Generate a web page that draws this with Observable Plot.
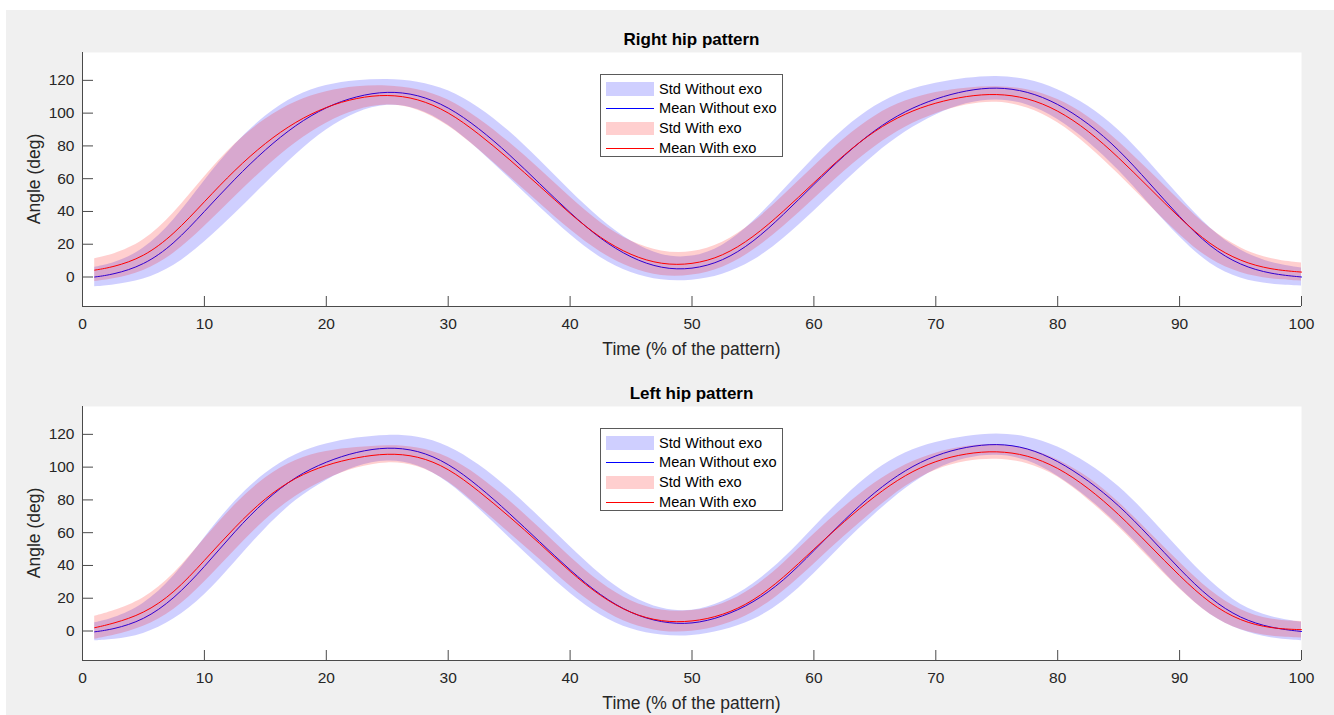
<!DOCTYPE html>
<html>
<head>
<meta charset="utf-8">
<script src="https://cdn.jsdelivr.net/npm/d3@7"></script>
<script src="https://cdn.jsdelivr.net/npm/@observablehq/plot@0.6"></script>
<style>
  html, body { margin: 0; padding: 0; }
  body { width: 1334px; height: 715px; overflow: hidden; position: relative; background: #ffffff;
         font-family: "Liberation Sans", Arial, Helvetica, sans-serif; }
  #fig { position: absolute; left: 6px; top: 10px; width: 1328px; height: 705px; background: #f0f0f0; }
  .abs { position: absolute; white-space: nowrap; }
  .title { font-weight: bold; font-size: 17px; color: #000; transform: translate(-50%, -50%); }
  .xlabel { font-size: 17.5px; color: #262626; transform: translate(-50%, -50%); }
  .ylabel { font-size: 17.5px; color: #262626; transform: translate(-50%, -50%) rotate(-90deg); }
  .legend { background: #fff; border: 1px solid #5a5a5a; box-sizing: border-box; width: 183px; height: 83px; }
  .row { position: absolute; left: 0; height: 20px; width: 100%; font-size: 14.6px; color: #000; }
  .row .sw { position: absolute; left: 5px; width: 48px; }
  .row .tx { position: absolute; left: 58px; top: 50%; transform: translateY(-50%); }
  svg { position: absolute; left: 0; }
</style>
</head>
<body>
<div id="fig"></div>
<script>
// ---- data ----
const time = [1, 2.5, 5, 7.5, 10, 12.5, 15, 17.5, 20, 22.5, 25, 27.5, 30, 32.5, 35, 37.5, 40, 42.5, 45, 47.5, 50,
              52.5, 55, 57.5, 60, 62.5, 65, 67.5, 70, 72.5, 75, 77.5, 80, 82.5, 85, 87.5, 90, 92.5, 95, 97.5, 100];

// Right hip
const rightMeanWithout = [0, 1.5, 7, 20, 40, 60, 78, 93, 104, 110.5, 113.5, 111.5, 104, 91, 75, 57, 39, 23, 11.5, 5, 4.5,
                          9.5, 21, 38, 56.5, 74.5, 90, 101.5, 109, 114, 116, 113.5, 106, 94, 78, 57.5, 36.5, 18, 7, 1.8, 0];
const rightStdWithout  = [6, 6.5, 9, 14, 19, 21.5, 21, 18, 13.5, 9.5, 7.5, 8, 10.5, 13, 14.5, 14.5, 13.5, 12, 9.5, 7.5, 7,
                          8.5, 12, 15, 16.5, 16.5, 15, 12.5, 9.5, 7.5, 7, 7.5, 9, 11, 12.5, 13, 12.5, 11, 8.5, 6.5, 5.5];
const rightMeanWith    = [4.2, 6, 12, 26, 46, 65.5, 82, 95, 104, 109.5, 111.5, 109, 101, 87.5, 72, 55.5, 38.5, 23.5, 13, 7.5, 7.5,
                          12.5, 24, 40, 57.5, 75, 89.5, 100, 106.5, 110.5, 112, 109.5, 102, 89.5, 73, 54.5, 36, 19.5, 9.5, 4.5, 3];
const rightStdWith     = [7, 7.5, 9, 12.5, 15.5, 16.5, 15, 12.5, 9.5, 7, 5.5, 6, 8, 9.5, 10.5, 10.5, 10, 9, 8, 7.5, 7,
                          7.5, 8.5, 9.5, 10, 10, 9.5, 8, 6.5, 5, 4.5, 5.5, 7, 9, 10, 10.5, 10.5, 9.5, 7.5, 6, 5.5];

// Left hip
const leftMeanWithout  = [-0.5, 1, 6.5, 19.5, 39, 61, 80, 94.5, 103.5, 109.5, 112.3, 110.5, 102.5, 88.5, 72, 54.5, 37, 21.5, 10.5, 5, 4,
                          8.6, 17, 30.4, 49, 68, 85, 98.5, 107.5, 112.5, 114.5, 112, 104, 92, 77, 58, 37.6, 19.5, 7.5, 1.8, -0.3];
const leftStdWithout   = [5.5, 6.5, 9, 13, 18, 19, 17, 14, 11, 8.5, 7.5, 8.5, 11, 13.5, 15, 15, 14.5, 12.5, 10, 8, 7.5,
                          8.5, 11, 13, 14.5, 14, 13.5, 11, 8, 6.5, 6.3, 7, 9, 10.5, 12, 12.2, 12, 10.5, 7.5, 6.5, 5.6];
const leftMeanWith     = [2, 4.5, 10.5, 23, 43, 63.5, 81.5, 94, 101.5, 106, 108.5, 107, 99.5, 85.5, 70, 53.5, 36, 21, 10.5, 5.5, 5.5,
                          9.4, 18, 32.4, 50, 67, 82.5, 95.5, 104, 108.5, 110, 107.5, 100, 87.5, 71.5, 52.5, 33.5, 16.5, 6, 1.5, 0.8];
const leftStdWith      = [7, 7.5, 8.5, 11, 13.5, 14, 13, 11, 8.5, 6, 5, 5.5, 7.5, 9.5, 10, 9.5, 9, 8, 7, 6.3, 6.3,
                          6.3, 7.5, 8.5, 9.3, 9, 8.5, 6.5, 5, 4.5, 4.5, 4.5, 5, 7, 7.5, 8, 8.2, 7.5, 6, 5, 5];

const xTicks = [0, 10, 20, 30, 40, 50, 60, 70, 80, 90, 100];
const yTicks = [0, 20, 40, 60, 80, 100, 120];
const xDomain = [0, 100];
const yDomain = [-18, 137];

const titles = ["Right hip pattern", "Left hip pattern"];
const xLabel = "Time (% of the pattern)";
const yLabel = "Angle (deg)";
const legendLabels = ["Std Without exo", "Mean Without exo", "Std With exo", "Mean With exo"];

// ---- layout ----
const frameLeft = 82, frameRight = 1301, frameH = 254;
const panels = [
  {title: titles[0], top: 52, mw: rightMeanWithout, sw: rightStdWithout, mx: rightMeanWith, sx: rightStdWith},
  {title: titles[1], top: 406, mw: leftMeanWithout, sw: leftStdWithout, mx: leftMeanWith, sx: leftStdWith}
];

function el(cls, text, x, y) {
  const d = document.createElement("div");
  d.className = "abs " + cls;
  d.textContent = text;
  d.style.left = x + "px";
  d.style.top = y + "px";
  document.body.appendChild(d);
  return d;
}

const axisColor = "#4a4a4a";
const curve = "basis";

panels.forEach((p, i) => {
  const data = time.map((t, k) => ({
    t,
    mw: p.mw[k], lw: p.mw[k] - p.sw[k], hw: p.mw[k] + p.sw[k],
    mx: p.mx[k], lx: p.mx[k] - p.sx[k], hx: p.mx[k] + p.sx[k]
  }));
  const mt = 22, mb = 40;
  const chart = Plot.plot({
    width: 1334,
    height: mt + frameH + mb,
    marginTop: mt, marginBottom: mb, marginLeft: frameLeft, marginRight: 1334 - frameRight,
    x: {domain: xDomain},
    y: {domain: yDomain},
    style: {background: "transparent", fontFamily: "'Liberation Sans', Arial, Helvetica, sans-serif",
            fontSize: "15.5px", color: "#262626", overflow: "visible"},
    marks: [
      Plot.frame({fill: "white", stroke: null}),
      Plot.areaY(data, {x: "t", y1: "lw", y2: "hw", fill: "#0000ff", fillOpacity: 0.19, curve}),
      Plot.line(data, {x: "t", y: "mw", stroke: "#0000ff", strokeWidth: 1, curve}),
      Plot.areaY(data, {x: "t", y1: "lx", y2: "hx", fill: "#ff0000", fillOpacity: 0.19, curve}),
      Plot.line(data, {x: "t", y: "mx", stroke: "#ff0000", strokeWidth: 1, curve}),
      Plot.ruleX([xDomain[0]], {stroke: axisColor}),
      Plot.ruleY([yDomain[0]], {stroke: axisColor}),
      Plot.axisX(xTicks, {anchor: "bottom", tickSize: -10, tickPadding: 21, label: null, stroke: axisColor, fill: "#262626"}),
      Plot.axisY(yTicks, {anchor: "left", tickSize: -11, tickPadding: 19, label: null, stroke: axisColor, fill: "#262626"})
    ]
  });
  chart.style.top = (p.top - mt) + "px";
  document.body.appendChild(chart);

  const cx = (frameLeft + frameRight) / 2;
  el("title", p.title, cx, p.top - 12);
  el("xlabel", xLabel, cx, p.top + frameH + 43);
  el("ylabel", yLabel, 34, p.top + frameH / 2);

  // legend
  const lg = document.createElement("div");
  lg.className = "abs legend";
  lg.style.left = "600px";
  lg.style.top = (p.top + 22) + "px";
  const swatches = [
    {type: "fill", color: "rgba(0,0,255,0.19)"},
    {type: "line", color: "#0000ff"},
    {type: "fill", color: "rgba(255,0,0,0.19)"},
    {type: "line", color: "#ff0000"}
  ];
  legendLabels.forEach((lab, k) => {
    const r = document.createElement("div");
    r.className = "row";
    r.style.top = (3.5 + k * 19.9) + "px";
    const s = document.createElement("div");
    s.className = "sw";
    if (swatches[k].type === "fill") {
      s.style.top = "3.5px"; s.style.height = "13.5px"; s.style.background = swatches[k].color;
    } else {
      s.style.top = "9.5px"; s.style.height = "1px"; s.style.background = swatches[k].color;
    }
    const tx = document.createElement("div");
    tx.className = "tx";
    tx.textContent = lab;
    r.appendChild(s); r.appendChild(tx);
    lg.appendChild(r);
  });
  document.body.appendChild(lg);
});
</script>
</body>
</html>
